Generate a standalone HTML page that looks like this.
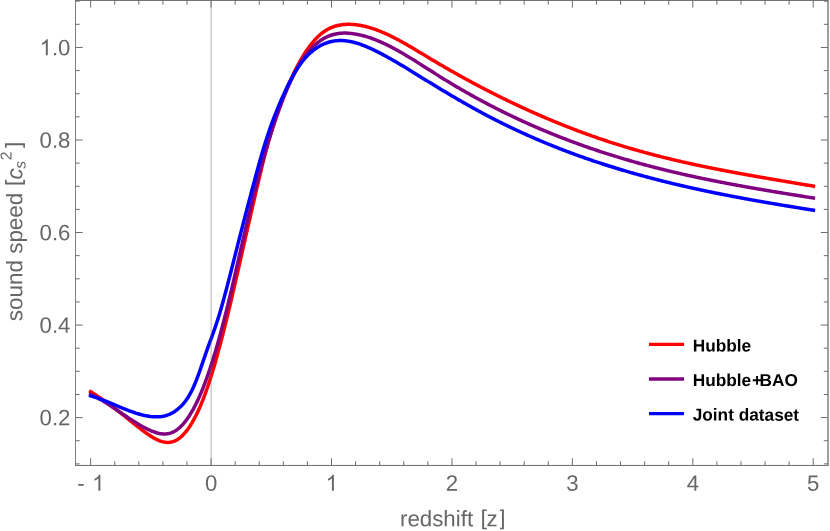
<!DOCTYPE html>
<html><head><meta charset="utf-8"><title>sound speed</title>
<style>
html,body{margin:0;padding:0;background:#fff;}
body{width:830px;height:531px;overflow:hidden;}
svg{display:block;will-change:transform;}
text{font-family:"Liberation Sans",sans-serif;}
</style></head><body>
<svg width="830" height="531" viewBox="0 0 830 531">
<g fill="none" stroke-width="3.5" stroke-linecap="square" stroke-linejoin="round">
<path stroke="#ff0000" d="M90.65,391.72 L91.45,392.22 L92.26,392.73 L93.06,393.24 L93.87,393.75 L94.67,394.27 L95.47,394.79 L96.28,395.31 L97.08,395.84 L97.89,396.37 L98.69,396.91 L99.49,397.45 L100.30,397.99 L101.10,398.54 L101.91,399.09 L102.71,399.65 L103.51,400.21 L104.32,400.77 L105.12,401.34 L105.93,401.91 L106.73,402.48 L107.53,403.06 L108.34,403.64 L109.14,404.23 L109.94,404.81 L110.75,405.41 L111.55,406.00 L112.36,406.60 L113.16,407.20 L113.96,407.81 L114.77,408.42 L115.57,409.03 L116.38,409.65 L117.18,410.27 L117.98,410.89 L118.79,411.52 L119.59,412.15 L120.40,412.78 L121.20,413.42 L122.00,414.06 L122.81,414.70 L123.61,415.35 L124.42,415.99 L125.22,416.64 L126.02,417.29 L126.83,417.94 L127.63,418.59 L128.44,419.24 L129.24,419.89 L130.04,420.54 L130.85,421.19 L131.65,421.84 L132.46,422.49 L133.26,423.13 L134.06,423.78 L134.87,424.42 L135.67,425.06 L136.48,425.69 L137.28,426.32 L138.08,426.95 L138.89,427.58 L139.69,428.20 L140.49,428.82 L141.30,429.43 L142.10,430.03 L142.91,430.63 L143.71,431.23 L144.51,431.82 L145.32,432.40 L146.12,432.98 L146.93,433.55 L147.73,434.11 L148.53,434.66 L149.34,435.20 L150.14,435.73 L150.95,436.25 L151.75,436.75 L152.55,437.24 L153.36,437.72 L154.16,438.17 L154.97,438.61 L155.77,439.04 L156.57,439.44 L157.38,439.82 L158.18,440.18 L158.99,440.51 L159.79,440.83 L160.59,441.11 L161.40,441.38 L162.20,441.61 L163.01,441.82 L163.81,441.99 L164.61,442.14 L165.42,442.25 L166.22,442.34 L167.03,442.39 L167.83,442.40 L168.63,442.38 L169.44,442.32 L170.24,442.22 L171.04,442.09 L171.85,441.91 L172.65,441.70 L173.46,441.44 L174.26,441.14 L175.06,440.79 L175.87,440.40 L176.67,439.97 L177.48,439.49 L178.28,438.96 L179.08,438.39 L179.89,437.77 L180.69,437.11 L181.50,436.40 L182.30,435.64 L183.10,434.84 L183.91,433.99 L184.71,433.09 L185.52,432.14 L186.32,431.15 L187.12,430.11 L187.93,429.02 L188.73,427.89 L189.54,426.71 L190.34,425.47 L191.14,424.19 L191.95,422.87 L192.75,421.49 L193.56,420.06 L194.36,418.59 L195.16,417.06 L195.97,415.49 L196.77,413.86 L197.58,412.19 L198.38,410.46 L199.18,408.69 L199.99,406.86 L200.79,404.98 L201.59,403.06 L202.40,401.08 L203.20,399.05 L204.01,396.97 L204.81,394.84 L205.61,392.65 L206.42,390.42 L207.22,388.13 L208.03,385.79 L208.83,383.39 L209.63,380.95 L210.44,378.45 L211.24,375.89 L212.05,373.29 L212.85,370.62 L213.65,367.91 L214.46,365.14 L215.26,362.32 L216.07,359.46 L216.87,356.57 L217.67,353.64 L218.48,350.68 L219.28,347.71 L220.09,344.70 L220.89,341.68 L221.69,338.62 L222.50,335.54 L223.30,332.43 L224.11,329.29 L224.91,326.12 L225.71,322.92 L226.52,319.68 L227.32,316.41 L228.13,313.11 L228.93,309.77 L229.73,306.41 L230.54,303.02 L231.34,299.60 L232.14,296.17 L232.95,292.71 L233.75,289.23 L234.56,285.73 L235.36,282.22 L236.16,278.70 L236.97,275.16 L237.77,271.62 L238.58,268.07 L239.38,264.51 L240.18,260.95 L240.99,257.38 L241.79,253.82 L242.60,250.25 L243.40,246.69 L244.20,243.14 L245.01,239.59 L245.81,236.06 L246.62,232.53 L247.42,229.01 L248.22,225.50 L249.03,222.00 L249.83,218.51 L250.64,215.02 L251.44,211.54 L252.24,208.06 L253.05,204.59 L253.85,201.12 L254.66,197.65 L255.46,194.19 L256.26,190.73 L257.07,187.27 L257.87,183.81 L258.68,180.38 L259.48,176.96 L260.28,173.57 L261.09,170.21 L261.89,166.88 L262.70,163.60 L263.50,160.37 L264.30,157.19 L265.11,154.06 L265.91,151.00 L266.71,147.99 L267.52,145.04 L268.32,142.14 L269.13,139.30 L269.93,136.51 L270.73,133.77 L271.54,131.08 L272.34,128.45 L273.15,125.86 L273.95,123.32 L274.75,120.82 L275.56,118.38 L276.36,115.98 L277.17,113.62 L277.97,111.30 L278.77,109.03 L279.58,106.80 L280.38,104.61 L281.19,102.46 L281.99,100.35 L282.79,98.27 L283.60,96.24 L284.40,94.23 L285.21,92.26 L286.01,90.33 L286.81,88.42 L287.62,86.55 L288.42,84.71 L289.23,82.90 L290.03,81.12 L290.83,79.36 L291.64,77.64 L292.44,75.93 L293.25,74.26 L294.05,72.62 L294.85,71.00 L295.66,69.41 L296.46,67.84 L297.26,66.31 L298.07,64.80 L298.87,63.32 L299.68,61.87 L300.48,60.45 L301.28,59.06 L302.09,57.69 L302.89,56.35 L303.70,55.04 L304.50,53.76 L305.30,52.51 L306.11,51.29 L306.91,50.09 L307.72,48.93 L308.52,47.79 L309.32,46.68 L310.13,45.61 L310.93,44.56 L311.74,43.54 L312.54,42.55 L313.34,41.59 L314.15,40.66 L314.95,39.76 L315.76,38.89 L316.56,38.05 L317.36,37.24 L318.17,36.46 L318.97,35.71 L319.78,34.98 L320.58,34.29 L321.38,33.63 L322.19,32.99 L322.99,32.39 L323.80,31.81 L324.60,31.25 L325.40,30.72 L326.21,30.22 L327.01,29.74 L327.81,29.29 L328.62,28.86 L329.42,28.45 L330.23,28.07 L331.03,27.71 L331.83,27.37 L332.64,27.05 L333.44,26.75 L334.25,26.47 L335.05,26.21 L335.85,25.98 L336.66,25.76 L337.46,25.55 L338.27,25.37 L339.07,25.20 L339.87,25.05 L340.68,24.92 L341.48,24.80 L342.29,24.69 L343.09,24.60 L343.89,24.53 L344.70,24.47 L345.50,24.42 L346.31,24.38 L347.11,24.35 L347.91,24.34 L348.72,24.34 L349.52,24.34 L350.33,24.36 L351.13,24.39 L351.93,24.43 L352.74,24.48 L353.54,24.53 L354.35,24.60 L355.15,24.68 L355.95,24.77 L356.76,24.86 L357.56,24.97 L358.36,25.08 L359.17,25.21 L359.97,25.34 L360.78,25.48 L361.58,25.63 L362.38,25.79 L363.19,25.96 L363.99,26.14 L364.80,26.32 L365.60,26.51 L366.40,26.71 L367.21,26.92 L368.01,27.14 L368.82,27.36 L369.62,27.59 L370.42,27.83 L371.23,28.08 L372.03,28.33 L372.84,28.59 L373.64,28.86 L374.44,29.14 L375.25,29.42 L376.05,29.71 L376.86,30.00 L377.66,30.31 L378.46,30.61 L379.27,30.93 L380.07,31.25 L380.88,31.57 L381.68,31.91 L382.48,32.25 L383.29,32.59 L384.09,32.94 L384.90,33.29 L385.70,33.65 L386.50,34.02 L387.31,34.39 L388.11,34.77 L388.92,35.15 L389.72,35.53 L390.52,35.92 L391.33,36.32 L392.13,36.72 L392.93,37.12 L393.74,37.53 L394.54,37.94 L395.35,38.36 L396.15,38.78 L396.95,39.20 L397.76,39.63 L398.56,40.06 L399.37,40.49 L400.17,40.93 L400.97,41.37 L401.78,41.82 L402.58,42.26 L403.39,42.71 L404.19,43.17 L404.99,43.62 L405.80,44.08 L406.60,44.54 L407.41,45.00 L408.21,45.47 L409.01,45.94 L409.82,46.41 L410.62,46.88 L411.43,47.35 L412.23,47.82 L413.03,48.30 L413.84,48.78 L414.64,49.26 L415.45,49.74 L416.25,50.22 L417.05,50.70 L417.86,51.18 L418.66,51.67 L419.47,52.15 L420.27,52.64 L421.07,53.12 L421.88,53.61 L422.68,54.09 L423.48,54.58 L424.29,55.06 L425.09,55.55 L425.90,56.03 L426.70,56.52 L427.50,57.00 L428.31,57.49 L429.11,57.97 L429.92,58.45 L430.72,58.94 L431.52,59.42 L432.33,59.90 L433.13,60.37 L433.94,60.85 L434.74,61.33 L435.54,61.80 L436.35,62.28 L437.15,62.75 L437.96,63.23 L438.76,63.70 L439.56,64.17 L440.37,64.64 L441.17,65.11 L441.98,65.58 L442.78,66.04 L443.58,66.51 L444.39,66.98 L445.19,67.44 L446.00,67.90 L446.80,68.37 L447.60,68.83 L448.41,69.29 L449.21,69.75 L450.02,70.21 L450.82,70.67 L451.62,71.12 L452.43,71.58 L453.23,72.03 L454.03,72.49 L454.84,72.94 L455.64,73.39 L456.45,73.84 L457.25,74.29 L458.05,74.74 L458.86,75.19 L459.66,75.64 L460.47,76.09 L461.27,76.53 L462.07,76.97 L462.88,77.42 L463.68,77.86 L464.49,78.30 L465.29,78.74 L466.09,79.18 L466.90,79.62 L467.70,80.06 L468.51,80.50 L469.31,80.93 L470.11,81.37 L470.92,81.80 L471.72,82.23 L472.53,82.67 L473.33,83.10 L474.13,83.53 L474.94,83.96 L475.74,84.38 L476.55,84.81 L477.35,85.24 L478.15,85.66 L478.96,86.09 L479.76,86.51 L480.57,86.93 L481.37,87.35 L482.17,87.77 L482.98,88.19 L483.78,88.61 L484.58,89.03 L485.39,89.45 L486.19,89.86 L487.00,90.28 L487.80,90.69 L488.60,91.10 L489.41,91.51 L490.21,91.92 L491.02,92.33 L491.82,92.74 L492.62,93.15 L493.43,93.56 L494.23,93.96 L495.04,94.37 L495.84,94.77 L496.64,95.18 L497.45,95.58 L498.25,95.98 L499.06,96.38 L499.86,96.78 L500.66,97.18 L501.47,97.57 L502.27,97.97 L503.08,98.36 L503.88,98.76 L504.68,99.15 L505.49,99.54 L506.29,99.93 L507.10,100.32 L507.90,100.71 L508.70,101.10 L509.51,101.49 L510.31,101.88 L511.12,102.26 L511.92,102.65 L512.72,103.03 L513.53,103.41 L514.33,103.79 L515.13,104.17 L515.94,104.55 L516.74,104.93 L517.55,105.31 L518.35,105.69 L519.15,106.06 L519.96,106.44 L520.76,106.81 L521.57,107.18 L522.37,107.55 L523.17,107.92 L523.98,108.29 L524.78,108.66 L525.59,109.03 L526.39,109.40 L527.19,109.76 L528.00,110.13 L528.80,110.49 L529.61,110.85 L530.41,111.22 L531.21,111.58 L532.02,111.94 L532.82,112.30 L533.63,112.65 L534.43,113.01 L535.23,113.37 L536.04,113.72 L536.84,114.07 L537.65,114.43 L538.45,114.78 L539.25,115.13 L540.06,115.48 L540.86,115.83 L541.67,116.18 L542.47,116.52 L543.27,116.87 L544.08,117.21 L544.88,117.56 L545.69,117.90 L546.49,118.24 L547.29,118.58 L548.10,118.92 L548.90,119.26 L549.70,119.60 L550.51,119.94 L551.31,120.27 L552.12,120.61 L552.92,120.94 L553.72,121.28 L554.53,121.61 L555.33,121.94 L556.14,122.27 L556.94,122.60 L557.74,122.93 L558.55,123.25 L559.35,123.58 L560.16,123.90 L560.96,124.23 L561.76,124.55 L562.57,124.87 L563.37,125.19 L564.18,125.51 L564.98,125.83 L565.78,126.15 L566.59,126.47 L567.39,126.78 L568.20,127.10 L569.00,127.41 L569.80,127.72 L570.61,128.04 L571.41,128.35 L572.22,128.66 L573.02,128.97 L573.82,129.27 L574.63,129.58 L575.43,129.89 L576.24,130.19 L577.04,130.50 L577.84,130.80 L578.65,131.10 L579.45,131.40 L580.25,131.70 L581.06,132.00 L581.86,132.30 L582.67,132.59 L583.47,132.89 L584.27,133.18 L585.08,133.48 L585.88,133.77 L586.69,134.06 L587.49,134.35 L588.29,134.64 L589.10,134.93 L589.90,135.22 L590.71,135.51 L591.51,135.79 L592.31,136.08 L593.12,136.36 L593.92,136.64 L594.73,136.92 L595.53,137.20 L596.33,137.48 L597.14,137.76 L597.94,138.04 L598.75,138.32 L599.55,138.59 L600.35,138.87 L601.16,139.14 L601.96,139.41 L602.77,139.68 L603.57,139.95 L604.37,140.22 L605.18,140.49 L605.98,140.76 L606.79,141.03 L607.59,141.29 L608.39,141.55 L609.20,141.82 L610.00,142.08 L610.80,142.34 L611.61,142.60 L612.41,142.86 L613.22,143.12 L614.02,143.38 L614.82,143.63 L615.63,143.89 L616.43,144.14 L617.24,144.39 L618.04,144.65 L618.84,144.90 L619.65,145.15 L620.45,145.40 L621.26,145.64 L622.06,145.89 L622.86,146.14 L623.67,146.38 L624.47,146.62 L625.28,146.87 L626.08,147.11 L626.88,147.35 L627.69,147.59 L628.49,147.83 L629.30,148.07 L630.10,148.30 L630.90,148.54 L631.71,148.77 L632.51,149.01 L633.32,149.24 L634.12,149.47 L634.92,149.70 L635.73,149.93 L636.53,150.16 L637.34,150.39 L638.14,150.62 L638.94,150.84 L639.75,151.07 L640.55,151.29 L641.35,151.52 L642.16,151.74 L642.96,151.96 L643.77,152.18 L644.57,152.40 L645.37,152.62 L646.18,152.84 L646.98,153.06 L647.79,153.28 L648.59,153.49 L649.39,153.71 L650.20,153.92 L651.00,154.13 L651.81,154.35 L652.61,154.56 L653.41,154.77 L654.22,154.98 L655.02,155.19 L655.83,155.39 L656.63,155.60 L657.43,155.81 L658.24,156.01 L659.04,156.22 L659.85,156.42 L660.65,156.63 L661.45,156.83 L662.26,157.03 L663.06,157.23 L663.87,157.43 L664.67,157.63 L665.47,157.83 L666.28,158.03 L667.08,158.22 L667.89,158.42 L668.69,158.62 L669.49,158.81 L670.30,159.00 L671.10,159.20 L671.91,159.39 L672.71,159.58 L673.51,159.77 L674.32,159.96 L675.12,160.15 L675.92,160.34 L676.73,160.53 L677.53,160.72 L678.34,160.90 L679.14,161.09 L679.94,161.28 L680.75,161.46 L681.55,161.64 L682.36,161.83 L683.16,162.01 L683.96,162.19 L684.77,162.37 L685.57,162.56 L686.38,162.74 L687.18,162.91 L687.98,163.09 L688.79,163.27 L689.59,163.45 L690.40,163.63 L691.20,163.80 L692.00,163.98 L692.81,164.15 L693.61,164.33 L694.42,164.50 L695.22,164.67 L696.02,164.85 L696.83,165.02 L697.63,165.19 L698.44,165.36 L699.24,165.53 L700.04,165.70 L700.85,165.87 L701.65,166.04 L702.46,166.21 L703.26,166.38 L704.06,166.54 L704.87,166.71 L705.67,166.87 L706.47,167.04 L707.28,167.20 L708.08,167.37 L708.89,167.53 L709.69,167.70 L710.49,167.86 L711.30,168.02 L712.10,168.18 L712.91,168.34 L713.71,168.50 L714.51,168.67 L715.32,168.83 L716.12,168.98 L716.93,169.14 L717.73,169.30 L718.53,169.46 L719.34,169.62 L720.14,169.77 L720.95,169.93 L721.75,170.09 L722.55,170.24 L723.36,170.40 L724.16,170.55 L724.97,170.71 L725.77,170.86 L726.57,171.01 L727.38,171.17 L728.18,171.32 L728.99,171.47 L729.79,171.62 L730.59,171.77 L731.40,171.93 L732.20,172.08 L733.01,172.23 L733.81,172.38 L734.61,172.53 L735.42,172.68 L736.22,172.82 L737.02,172.97 L737.83,173.12 L738.63,173.27 L739.44,173.42 L740.24,173.56 L741.04,173.71 L741.85,173.86 L742.65,174.00 L743.46,174.15 L744.26,174.29 L745.06,174.44 L745.87,174.58 L746.67,174.73 L747.48,174.87 L748.28,175.02 L749.08,175.16 L749.89,175.30 L750.69,175.45 L751.50,175.59 L752.30,175.73 L753.10,175.87 L753.91,176.02 L754.71,176.16 L755.52,176.30 L756.32,176.44 L757.12,176.58 L757.93,176.72 L758.73,176.86 L759.54,177.00 L760.34,177.14 L761.14,177.28 L761.95,177.42 L762.75,177.56 L763.56,177.70 L764.36,177.84 L765.16,177.98 L765.97,178.12 L766.77,178.26 L767.57,178.39 L768.38,178.53 L769.18,178.67 L769.99,178.81 L770.79,178.94 L771.59,179.08 L772.40,179.22 L773.20,179.36 L774.01,179.49 L774.81,179.63 L775.61,179.77 L776.42,179.90 L777.22,180.04 L778.03,180.18 L778.83,180.31 L779.63,180.45 L780.44,180.58 L781.24,180.72 L782.05,180.86 L782.85,180.99 L783.65,181.13 L784.46,181.26 L785.26,181.40 L786.07,181.53 L786.87,181.67 L787.67,181.80 L788.48,181.94 L789.28,182.07 L790.09,182.21 L790.89,182.34 L791.69,182.48 L792.50,182.61 L793.30,182.75 L794.11,182.88 L794.91,183.02 L795.71,183.15 L796.52,183.29 L797.32,183.42 L798.12,183.56 L798.93,183.69 L799.73,183.83 L800.54,183.96 L801.34,184.10 L802.14,184.23 L802.95,184.37 L803.75,184.50 L804.56,184.63 L805.36,184.77 L806.16,184.90 L806.97,185.04 L807.77,185.17 L808.58,185.31 L809.38,185.44 L810.18,185.58 L810.99,185.72 L811.79,185.85 L812.60,185.99 L813.40,186.12"/>
<path stroke="#800080" d="M90.65,394.35 L91.45,394.72 L92.26,395.10 L93.06,395.49 L93.87,395.88 L94.67,396.29 L95.47,396.70 L96.28,397.13 L97.08,397.56 L97.89,398.00 L98.69,398.45 L99.49,398.90 L100.30,399.37 L101.10,399.83 L101.91,400.31 L102.71,400.79 L103.51,401.28 L104.32,401.78 L105.12,402.28 L105.93,402.78 L106.73,403.29 L107.53,403.81 L108.34,404.32 L109.14,404.85 L109.94,405.37 L110.75,405.90 L111.55,406.44 L112.36,406.97 L113.16,407.51 L113.96,408.06 L114.77,408.60 L115.57,409.15 L116.38,409.69 L117.18,410.24 L117.98,410.79 L118.79,411.34 L119.59,411.89 L120.40,412.44 L121.20,412.99 L122.00,413.54 L122.81,414.09 L123.61,414.64 L124.42,415.19 L125.22,415.74 L126.02,416.28 L126.83,416.82 L127.63,417.36 L128.44,417.90 L129.24,418.43 L130.04,418.96 L130.85,419.49 L131.65,420.01 L132.46,420.53 L133.26,421.05 L134.06,421.56 L134.87,422.06 L135.67,422.56 L136.48,423.06 L137.28,423.55 L138.08,424.03 L138.89,424.51 L139.69,424.98 L140.49,425.44 L141.30,425.90 L142.10,426.34 L142.91,426.78 L143.71,427.22 L144.51,427.64 L145.32,428.06 L146.12,428.46 L146.93,428.86 L147.73,429.25 L148.53,429.63 L149.34,430.00 L150.14,430.36 L150.95,430.70 L151.75,431.04 L152.55,431.36 L153.36,431.67 L154.16,431.96 L154.97,432.24 L155.77,432.50 L156.57,432.75 L157.38,432.97 L158.18,433.18 L158.99,433.36 L159.79,433.52 L160.59,433.66 L161.40,433.77 L162.20,433.86 L163.01,433.92 L163.81,433.96 L164.61,433.96 L165.42,433.94 L166.22,433.88 L167.03,433.80 L167.83,433.68 L168.63,433.53 L169.44,433.34 L170.24,433.12 L171.04,432.86 L171.85,432.57 L172.65,432.23 L173.46,431.86 L174.26,431.44 L175.06,430.98 L175.87,430.48 L176.67,429.94 L177.48,429.36 L178.28,428.73 L179.08,428.06 L179.89,427.35 L180.69,426.60 L181.50,425.80 L182.30,424.96 L183.10,424.08 L183.91,423.15 L184.71,422.18 L185.52,421.17 L186.32,420.11 L187.12,419.01 L187.93,417.86 L188.73,416.67 L189.54,415.44 L190.34,414.16 L191.14,412.84 L191.95,411.47 L192.75,410.06 L193.56,408.60 L194.36,407.10 L195.16,405.55 L195.97,403.96 L196.77,402.32 L197.58,400.63 L198.38,398.90 L199.18,397.12 L199.99,395.30 L200.79,393.43 L201.59,391.51 L202.40,389.55 L203.20,387.54 L204.01,385.48 L204.81,383.38 L205.61,381.23 L206.42,379.03 L207.22,376.78 L208.03,374.49 L208.83,372.16 L209.63,369.78 L210.44,367.35 L211.24,364.88 L212.05,362.37 L212.85,359.82 L213.65,357.22 L214.46,354.58 L215.26,351.90 L216.07,349.18 L216.87,346.42 L217.67,343.62 L218.48,340.78 L219.28,337.90 L220.09,334.99 L220.89,332.03 L221.69,329.04 L222.50,326.01 L223.30,322.95 L224.11,319.85 L224.91,316.71 L225.71,313.54 L226.52,310.34 L227.32,307.10 L228.13,303.83 L228.93,300.52 L229.73,297.19 L230.54,293.83 L231.34,290.44 L232.14,287.03 L232.95,283.60 L233.75,280.15 L234.56,276.68 L235.36,273.20 L236.16,269.71 L236.97,266.21 L237.77,262.71 L238.58,259.19 L239.38,255.68 L240.18,252.17 L240.99,248.66 L241.79,245.15 L242.60,241.65 L243.40,238.16 L244.20,234.69 L245.01,231.23 L245.81,227.78 L246.62,224.35 L247.42,220.95 L248.22,217.56 L249.03,214.21 L249.83,210.88 L250.64,207.57 L251.44,204.30 L252.24,201.05 L253.05,197.83 L253.85,194.63 L254.66,191.46 L255.46,188.33 L256.26,185.22 L257.07,182.14 L257.87,179.08 L258.68,176.06 L259.48,173.07 L260.28,170.10 L261.09,167.17 L261.89,164.26 L262.70,161.39 L263.50,158.55 L264.30,155.73 L265.11,152.95 L265.91,150.20 L266.71,147.47 L267.52,144.78 L268.32,142.12 L269.13,139.49 L269.93,136.90 L270.73,134.33 L271.54,131.80 L272.34,129.29 L273.15,126.82 L273.95,124.38 L274.75,121.98 L275.56,119.60 L276.36,117.26 L277.17,114.95 L277.97,112.67 L278.77,110.43 L279.58,108.22 L280.38,106.05 L281.19,103.90 L281.99,101.79 L282.79,99.72 L283.60,97.68 L284.40,95.67 L285.21,93.70 L286.01,91.76 L286.81,89.85 L287.62,87.98 L288.42,86.15 L289.23,84.35 L290.03,82.59 L290.83,80.86 L291.64,79.17 L292.44,77.51 L293.25,75.89 L294.05,74.31 L294.85,72.76 L295.66,71.25 L296.46,69.77 L297.26,68.33 L298.07,66.93 L298.87,65.56 L299.68,64.22 L300.48,62.93 L301.28,61.66 L302.09,60.43 L302.89,59.23 L303.70,58.07 L304.50,56.93 L305.30,55.83 L306.11,54.76 L306.91,53.73 L307.72,52.72 L308.52,51.74 L309.32,50.80 L310.13,49.88 L310.93,48.99 L311.74,48.14 L312.54,47.31 L313.34,46.51 L314.15,45.73 L314.95,44.99 L315.76,44.27 L316.56,43.58 L317.36,42.91 L318.17,42.27 L318.97,41.66 L319.78,41.07 L320.58,40.50 L321.38,39.96 L322.19,39.44 L322.99,38.95 L323.80,38.48 L324.60,38.03 L325.40,37.61 L326.21,37.21 L327.01,36.82 L327.81,36.46 L328.62,36.13 L329.42,35.81 L330.23,35.51 L331.03,35.23 L331.83,34.97 L332.64,34.73 L333.44,34.50 L334.25,34.30 L335.05,34.11 L335.85,33.94 L336.66,33.79 L337.46,33.65 L338.27,33.53 L339.07,33.42 L339.87,33.33 L340.68,33.26 L341.48,33.20 L342.29,33.15 L343.09,33.12 L343.89,33.10 L344.70,33.10 L345.50,33.10 L346.31,33.12 L347.11,33.15 L347.91,33.19 L348.72,33.25 L349.52,33.31 L350.33,33.38 L351.13,33.47 L351.93,33.56 L352.74,33.66 L353.54,33.77 L354.35,33.89 L355.15,34.02 L355.95,34.15 L356.76,34.30 L357.56,34.45 L358.36,34.61 L359.17,34.78 L359.97,34.96 L360.78,35.14 L361.58,35.34 L362.38,35.54 L363.19,35.75 L363.99,35.96 L364.80,36.18 L365.60,36.41 L366.40,36.65 L367.21,36.90 L368.01,37.15 L368.82,37.41 L369.62,37.67 L370.42,37.94 L371.23,38.22 L372.03,38.51 L372.84,38.80 L373.64,39.10 L374.44,39.40 L375.25,39.72 L376.05,40.03 L376.86,40.36 L377.66,40.68 L378.46,41.02 L379.27,41.36 L380.07,41.71 L380.88,42.06 L381.68,42.42 L382.48,42.78 L383.29,43.15 L384.09,43.52 L384.90,43.90 L385.70,44.28 L386.50,44.67 L387.31,45.06 L388.11,45.46 L388.92,45.86 L389.72,46.27 L390.52,46.68 L391.33,47.09 L392.13,47.51 L392.93,47.94 L393.74,48.36 L394.54,48.80 L395.35,49.23 L396.15,49.67 L396.95,50.11 L397.76,50.56 L398.56,51.01 L399.37,51.46 L400.17,51.92 L400.97,52.38 L401.78,52.84 L402.58,53.31 L403.39,53.78 L404.19,54.25 L404.99,54.73 L405.80,55.20 L406.60,55.68 L407.41,56.17 L408.21,56.65 L409.01,57.14 L409.82,57.63 L410.62,58.12 L411.43,58.61 L412.23,59.11 L413.03,59.60 L413.84,60.10 L414.64,60.60 L415.45,61.10 L416.25,61.61 L417.05,62.11 L417.86,62.62 L418.66,63.12 L419.47,63.63 L420.27,64.14 L421.07,64.65 L421.88,65.16 L422.68,65.67 L423.48,66.18 L424.29,66.70 L425.09,67.21 L425.90,67.72 L426.70,68.23 L427.50,68.75 L428.31,69.26 L429.11,69.77 L429.92,70.29 L430.72,70.80 L431.52,71.31 L432.33,71.82 L433.13,72.34 L433.94,72.85 L434.74,73.36 L435.54,73.87 L436.35,74.37 L437.15,74.88 L437.96,75.39 L438.76,75.89 L439.56,76.40 L440.37,76.90 L441.17,77.40 L441.98,77.90 L442.78,78.40 L443.58,78.89 L444.39,79.39 L445.19,79.88 L446.00,80.38 L446.80,80.87 L447.60,81.36 L448.41,81.84 L449.21,82.33 L450.02,82.82 L450.82,83.30 L451.62,83.78 L452.43,84.26 L453.23,84.74 L454.03,85.22 L454.84,85.70 L455.64,86.18 L456.45,86.65 L457.25,87.12 L458.05,87.59 L458.86,88.06 L459.66,88.53 L460.47,89.00 L461.27,89.47 L462.07,89.93 L462.88,90.39 L463.68,90.86 L464.49,91.32 L465.29,91.77 L466.09,92.23 L466.90,92.69 L467.70,93.14 L468.51,93.60 L469.31,94.05 L470.11,94.50 L470.92,94.95 L471.72,95.40 L472.53,95.85 L473.33,96.29 L474.13,96.74 L474.94,97.18 L475.74,97.62 L476.55,98.06 L477.35,98.50 L478.15,98.94 L478.96,99.37 L479.76,99.81 L480.57,100.24 L481.37,100.67 L482.17,101.11 L482.98,101.54 L483.78,101.96 L484.58,102.39 L485.39,102.82 L486.19,103.24 L487.00,103.67 L487.80,104.09 L488.60,104.51 L489.41,104.93 L490.21,105.35 L491.02,105.76 L491.82,106.18 L492.62,106.59 L493.43,107.01 L494.23,107.42 L495.04,107.83 L495.84,108.24 L496.64,108.64 L497.45,109.05 L498.25,109.46 L499.06,109.86 L499.86,110.26 L500.66,110.67 L501.47,111.07 L502.27,111.47 L503.08,111.86 L503.88,112.26 L504.68,112.66 L505.49,113.05 L506.29,113.44 L507.10,113.83 L507.90,114.22 L508.70,114.61 L509.51,115.00 L510.31,115.39 L511.12,115.77 L511.92,116.16 L512.72,116.54 L513.53,116.92 L514.33,117.30 L515.13,117.68 L515.94,118.06 L516.74,118.44 L517.55,118.82 L518.35,119.19 L519.15,119.56 L519.96,119.94 L520.76,120.31 L521.57,120.68 L522.37,121.05 L523.17,121.41 L523.98,121.78 L524.78,122.15 L525.59,122.51 L526.39,122.87 L527.19,123.23 L528.00,123.59 L528.80,123.95 L529.61,124.31 L530.41,124.67 L531.21,125.03 L532.02,125.38 L532.82,125.73 L533.63,126.09 L534.43,126.44 L535.23,126.79 L536.04,127.14 L536.84,127.48 L537.65,127.83 L538.45,128.18 L539.25,128.52 L540.06,128.86 L540.86,129.21 L541.67,129.55 L542.47,129.89 L543.27,130.23 L544.08,130.56 L544.88,130.90 L545.69,131.24 L546.49,131.57 L547.29,131.90 L548.10,132.23 L548.90,132.57 L549.70,132.90 L550.51,133.22 L551.31,133.55 L552.12,133.88 L552.92,134.20 L553.72,134.53 L554.53,134.85 L555.33,135.17 L556.14,135.49 L556.94,135.81 L557.74,136.13 L558.55,136.45 L559.35,136.77 L560.16,137.08 L560.96,137.40 L561.76,137.71 L562.57,138.02 L563.37,138.34 L564.18,138.65 L564.98,138.96 L565.78,139.26 L566.59,139.57 L567.39,139.88 L568.20,140.18 L569.00,140.49 L569.80,140.79 L570.61,141.09 L571.41,141.39 L572.22,141.69 L573.02,141.99 L573.82,142.29 L574.63,142.59 L575.43,142.88 L576.24,143.18 L577.04,143.47 L577.84,143.76 L578.65,144.06 L579.45,144.35 L580.25,144.64 L581.06,144.92 L581.86,145.21 L582.67,145.50 L583.47,145.78 L584.27,146.07 L585.08,146.35 L585.88,146.64 L586.69,146.92 L587.49,147.20 L588.29,147.48 L589.10,147.76 L589.90,148.03 L590.71,148.31 L591.51,148.59 L592.31,148.86 L593.12,149.14 L593.92,149.41 L594.73,149.68 L595.53,149.95 L596.33,150.22 L597.14,150.49 L597.94,150.76 L598.75,151.03 L599.55,151.29 L600.35,151.56 L601.16,151.82 L601.96,152.08 L602.77,152.35 L603.57,152.61 L604.37,152.87 L605.18,153.13 L605.98,153.39 L606.79,153.64 L607.59,153.90 L608.39,154.16 L609.20,154.41 L610.00,154.67 L610.80,154.92 L611.61,155.17 L612.41,155.42 L613.22,155.67 L614.02,155.92 L614.82,156.17 L615.63,156.42 L616.43,156.66 L617.24,156.91 L618.04,157.16 L618.84,157.40 L619.65,157.64 L620.45,157.88 L621.26,158.13 L622.06,158.37 L622.86,158.61 L623.67,158.84 L624.47,159.08 L625.28,159.32 L626.08,159.56 L626.88,159.79 L627.69,160.02 L628.49,160.26 L629.30,160.49 L630.10,160.72 L630.90,160.95 L631.71,161.18 L632.51,161.41 L633.32,161.64 L634.12,161.87 L634.92,162.10 L635.73,162.32 L636.53,162.55 L637.34,162.77 L638.14,162.99 L638.94,163.22 L639.75,163.44 L640.55,163.66 L641.35,163.88 L642.16,164.10 L642.96,164.32 L643.77,164.53 L644.57,164.75 L645.37,164.97 L646.18,165.18 L646.98,165.39 L647.79,165.61 L648.59,165.82 L649.39,166.03 L650.20,166.24 L651.00,166.45 L651.81,166.66 L652.61,166.87 L653.41,167.08 L654.22,167.29 L655.02,167.49 L655.83,167.70 L656.63,167.90 L657.43,168.11 L658.24,168.31 L659.04,168.52 L659.85,168.72 L660.65,168.92 L661.45,169.12 L662.26,169.32 L663.06,169.52 L663.87,169.72 L664.67,169.91 L665.47,170.11 L666.28,170.31 L667.08,170.50 L667.89,170.70 L668.69,170.89 L669.49,171.08 L670.30,171.28 L671.10,171.47 L671.91,171.66 L672.71,171.85 L673.51,172.04 L674.32,172.23 L675.12,172.42 L675.92,172.61 L676.73,172.79 L677.53,172.98 L678.34,173.17 L679.14,173.35 L679.94,173.54 L680.75,173.72 L681.55,173.90 L682.36,174.09 L683.16,174.27 L683.96,174.45 L684.77,174.63 L685.57,174.81 L686.38,174.99 L687.18,175.17 L687.98,175.35 L688.79,175.52 L689.59,175.70 L690.40,175.88 L691.20,176.05 L692.00,176.23 L692.81,176.40 L693.61,176.58 L694.42,176.75 L695.22,176.92 L696.02,177.10 L696.83,177.27 L697.63,177.44 L698.44,177.61 L699.24,177.78 L700.04,177.95 L700.85,178.12 L701.65,178.29 L702.46,178.46 L703.26,178.62 L704.06,178.79 L704.87,178.96 L705.67,179.12 L706.47,179.29 L707.28,179.45 L708.08,179.62 L708.89,179.78 L709.69,179.94 L710.49,180.11 L711.30,180.27 L712.10,180.43 L712.91,180.59 L713.71,180.75 L714.51,180.91 L715.32,181.07 L716.12,181.23 L716.93,181.39 L717.73,181.55 L718.53,181.70 L719.34,181.86 L720.14,182.02 L720.95,182.17 L721.75,182.33 L722.55,182.49 L723.36,182.64 L724.16,182.80 L724.97,182.95 L725.77,183.10 L726.57,183.26 L727.38,183.41 L728.18,183.56 L728.99,183.71 L729.79,183.86 L730.59,184.02 L731.40,184.17 L732.20,184.32 L733.01,184.47 L733.81,184.62 L734.61,184.76 L735.42,184.91 L736.22,185.06 L737.02,185.21 L737.83,185.36 L738.63,185.50 L739.44,185.65 L740.24,185.80 L741.04,185.94 L741.85,186.09 L742.65,186.23 L743.46,186.38 L744.26,186.52 L745.06,186.67 L745.87,186.81 L746.67,186.95 L747.48,187.10 L748.28,187.24 L749.08,187.38 L749.89,187.52 L750.69,187.67 L751.50,187.81 L752.30,187.95 L753.10,188.09 L753.91,188.23 L754.71,188.37 L755.52,188.51 L756.32,188.65 L757.12,188.79 L757.93,188.93 L758.73,189.07 L759.54,189.20 L760.34,189.34 L761.14,189.48 L761.95,189.62 L762.75,189.75 L763.56,189.89 L764.36,190.03 L765.16,190.16 L765.97,190.30 L766.77,190.44 L767.57,190.57 L768.38,190.71 L769.18,190.84 L769.99,190.98 L770.79,191.11 L771.59,191.25 L772.40,191.38 L773.20,191.52 L774.01,191.65 L774.81,191.78 L775.61,191.92 L776.42,192.05 L777.22,192.18 L778.03,192.32 L778.83,192.45 L779.63,192.58 L780.44,192.71 L781.24,192.84 L782.05,192.98 L782.85,193.11 L783.65,193.24 L784.46,193.37 L785.26,193.50 L786.07,193.63 L786.87,193.76 L787.67,193.89 L788.48,194.02 L789.28,194.15 L790.09,194.29 L790.89,194.42 L791.69,194.54 L792.50,194.67 L793.30,194.80 L794.11,194.93 L794.91,195.06 L795.71,195.19 L796.52,195.32 L797.32,195.45 L798.12,195.58 L798.93,195.71 L799.73,195.84 L800.54,195.97 L801.34,196.09 L802.14,196.22 L802.95,196.35 L803.75,196.48 L804.56,196.61 L805.36,196.73 L806.16,196.86 L806.97,196.99 L807.77,197.12 L808.58,197.25 L809.38,197.37 L810.18,197.50 L810.99,197.63 L811.79,197.76 L812.60,197.88 L813.40,198.01"/>
<path stroke="#0000ff" d="M90.65,395.92 L91.45,396.15 L92.26,396.38 L93.06,396.62 L93.87,396.87 L94.67,397.12 L95.47,397.38 L96.28,397.65 L97.08,397.92 L97.89,398.20 L98.69,398.48 L99.49,398.77 L100.30,399.06 L101.10,399.36 L101.91,399.66 L102.71,399.97 L103.51,400.28 L104.32,400.59 L105.12,400.91 L105.93,401.23 L106.73,401.55 L107.53,401.88 L108.34,402.21 L109.14,402.54 L109.94,402.87 L110.75,403.21 L111.55,403.54 L112.36,403.88 L113.16,404.22 L113.96,404.56 L114.77,404.90 L115.57,405.24 L116.38,405.58 L117.18,405.91 L117.98,406.25 L118.79,406.59 L119.59,406.93 L120.40,407.26 L121.20,407.59 L122.00,407.93 L122.81,408.26 L123.61,408.58 L124.42,408.91 L125.22,409.23 L126.02,409.55 L126.83,409.86 L127.63,410.18 L128.44,410.48 L129.24,410.79 L130.04,411.09 L130.85,411.38 L131.65,411.67 L132.46,411.96 L133.26,412.24 L134.06,412.51 L134.87,412.78 L135.67,413.04 L136.48,413.30 L137.28,413.55 L138.08,413.79 L138.89,414.03 L139.69,414.25 L140.49,414.47 L141.30,414.69 L142.10,414.89 L142.91,415.09 L143.71,415.28 L144.51,415.45 L145.32,415.62 L146.12,415.78 L146.93,415.94 L147.73,416.08 L148.53,416.21 L149.34,416.33 L150.14,416.44 L150.95,416.54 L151.75,416.62 L152.55,416.70 L153.36,416.76 L154.16,416.81 L154.97,416.85 L155.77,416.87 L156.57,416.87 L157.38,416.86 L158.18,416.83 L158.99,416.78 L159.79,416.72 L160.59,416.64 L161.40,416.53 L162.20,416.41 L163.01,416.27 L163.81,416.10 L164.61,415.92 L165.42,415.71 L166.22,415.47 L167.03,415.22 L167.83,414.93 L168.63,414.63 L169.44,414.29 L170.24,413.93 L171.04,413.55 L171.85,413.13 L172.65,412.69 L173.46,412.21 L174.26,411.71 L175.06,411.18 L175.87,410.61 L176.67,410.01 L177.48,409.38 L178.28,408.72 L179.08,408.02 L179.89,407.29 L180.69,406.52 L181.50,405.72 L182.30,404.87 L183.10,403.97 L183.91,403.03 L184.71,402.03 L185.52,400.99 L186.32,399.88 L187.12,398.71 L187.93,397.48 L188.73,396.19 L189.54,394.83 L190.34,393.39 L191.14,391.88 L191.95,390.29 L192.75,388.62 L193.56,386.87 L194.36,385.03 L195.16,383.12 L195.97,381.13 L196.77,379.07 L197.58,376.96 L198.38,374.78 L199.18,372.56 L199.99,370.30 L200.79,368.01 L201.59,365.69 L202.40,363.36 L203.20,361.02 L204.01,358.67 L204.81,356.33 L205.61,354.00 L206.42,351.68 L207.22,349.40 L208.03,347.15 L208.83,344.92 L209.63,342.71 L210.44,340.52 L211.24,338.32 L212.05,336.12 L212.85,333.91 L213.65,331.67 L214.46,329.40 L215.26,327.09 L216.07,324.74 L216.87,322.32 L217.67,319.85 L218.48,317.30 L219.28,314.68 L220.09,311.99 L220.89,309.25 L221.69,306.45 L222.50,303.59 L223.30,300.69 L224.11,297.75 L224.91,294.77 L225.71,291.75 L226.52,288.71 L227.32,285.64 L228.13,282.56 L228.93,279.45 L229.73,276.33 L230.54,273.20 L231.34,270.05 L232.14,266.90 L232.95,263.73 L233.75,260.56 L234.56,257.39 L235.36,254.21 L236.16,251.04 L236.97,247.86 L237.77,244.69 L238.58,241.53 L239.38,238.37 L240.18,235.22 L240.99,232.09 L241.79,228.96 L242.60,225.84 L243.40,222.74 L244.20,219.64 L245.01,216.54 L245.81,213.46 L246.62,210.38 L247.42,207.31 L248.22,204.25 L249.03,201.18 L249.83,198.13 L250.64,195.08 L251.44,192.03 L252.24,189.00 L253.05,185.98 L253.85,182.97 L254.66,179.97 L255.46,176.99 L256.26,174.03 L257.07,171.08 L257.87,168.16 L258.68,165.26 L259.48,162.39 L260.28,159.54 L261.09,156.73 L261.89,153.96 L262.70,151.22 L263.50,148.53 L264.30,145.88 L265.11,143.27 L265.91,140.72 L266.71,138.21 L267.52,135.76 L268.32,133.35 L269.13,130.98 L269.93,128.67 L270.73,126.39 L271.54,124.16 L272.34,121.96 L273.15,119.81 L273.95,117.69 L274.75,115.61 L275.56,113.56 L276.36,111.55 L277.17,109.57 L277.97,107.61 L278.77,105.69 L279.58,103.79 L280.38,101.92 L281.19,100.08 L281.99,98.25 L282.79,96.45 L283.60,94.67 L284.40,92.91 L285.21,91.17 L286.01,89.45 L286.81,87.76 L287.62,86.10 L288.42,84.46 L289.23,82.85 L290.03,81.27 L290.83,79.72 L291.64,78.21 L292.44,76.72 L293.25,75.27 L294.05,73.86 L294.85,72.49 L295.66,71.15 L296.46,69.85 L297.26,68.59 L298.07,67.37 L298.87,66.19 L299.68,65.03 L300.48,63.92 L301.28,62.84 L302.09,61.79 L302.89,60.78 L303.70,59.80 L304.50,58.85 L305.30,57.93 L306.11,57.04 L306.91,56.19 L307.72,55.36 L308.52,54.56 L309.32,53.79 L310.13,53.04 L310.93,52.33 L311.74,51.63 L312.54,50.97 L313.34,50.33 L314.15,49.71 L314.95,49.12 L315.76,48.55 L316.56,48.00 L317.36,47.47 L318.17,46.97 L318.97,46.49 L319.78,46.02 L320.58,45.58 L321.38,45.16 L322.19,44.76 L322.99,44.38 L323.80,44.02 L324.60,43.67 L325.40,43.35 L326.21,43.05 L327.01,42.76 L327.81,42.49 L328.62,42.25 L329.42,42.02 L330.23,41.80 L331.03,41.61 L331.83,41.43 L332.64,41.27 L333.44,41.12 L334.25,41.00 L335.05,40.89 L335.85,40.79 L336.66,40.71 L337.46,40.65 L338.27,40.60 L339.07,40.57 L339.87,40.55 L340.68,40.54 L341.48,40.55 L342.29,40.58 L343.09,40.62 L343.89,40.67 L344.70,40.73 L345.50,40.81 L346.31,40.90 L347.11,41.01 L347.91,41.13 L348.72,41.25 L349.52,41.39 L350.33,41.55 L351.13,41.71 L351.93,41.88 L352.74,42.07 L353.54,42.27 L354.35,42.47 L355.15,42.69 L355.95,42.92 L356.76,43.15 L357.56,43.40 L358.36,43.65 L359.17,43.92 L359.97,44.19 L360.78,44.47 L361.58,44.76 L362.38,45.06 L363.19,45.37 L363.99,45.68 L364.80,46.00 L365.60,46.33 L366.40,46.66 L367.21,47.00 L368.01,47.35 L368.82,47.70 L369.62,48.06 L370.42,48.42 L371.23,48.79 L372.03,49.16 L372.84,49.54 L373.64,49.93 L374.44,50.32 L375.25,50.71 L376.05,51.10 L376.86,51.50 L377.66,51.91 L378.46,52.31 L379.27,52.72 L380.07,53.14 L380.88,53.56 L381.68,53.98 L382.48,54.40 L383.29,54.83 L384.09,55.26 L384.90,55.69 L385.70,56.13 L386.50,56.57 L387.31,57.01 L388.11,57.46 L388.92,57.91 L389.72,58.36 L390.52,58.81 L391.33,59.26 L392.13,59.72 L392.93,60.18 L393.74,60.65 L394.54,61.11 L395.35,61.58 L396.15,62.05 L396.95,62.52 L397.76,62.99 L398.56,63.46 L399.37,63.94 L400.17,64.42 L400.97,64.90 L401.78,65.38 L402.58,65.86 L403.39,66.34 L404.19,66.83 L404.99,67.32 L405.80,67.80 L406.60,68.29 L407.41,68.78 L408.21,69.27 L409.01,69.76 L409.82,70.26 L410.62,70.75 L411.43,71.24 L412.23,71.74 L413.03,72.23 L413.84,72.72 L414.64,73.22 L415.45,73.72 L416.25,74.21 L417.05,74.71 L417.86,75.20 L418.66,75.70 L419.47,76.19 L420.27,76.69 L421.07,77.18 L421.88,77.68 L422.68,78.17 L423.48,78.67 L424.29,79.16 L425.09,79.66 L425.90,80.15 L426.70,80.64 L427.50,81.13 L428.31,81.63 L429.11,82.12 L429.92,82.61 L430.72,83.10 L431.52,83.59 L432.33,84.08 L433.13,84.57 L433.94,85.06 L434.74,85.55 L435.54,86.04 L436.35,86.53 L437.15,87.01 L437.96,87.50 L438.76,87.99 L439.56,88.47 L440.37,88.96 L441.17,89.44 L441.98,89.92 L442.78,90.41 L443.58,90.89 L444.39,91.37 L445.19,91.85 L446.00,92.33 L446.80,92.81 L447.60,93.29 L448.41,93.77 L449.21,94.24 L450.02,94.72 L450.82,95.20 L451.62,95.67 L452.43,96.14 L453.23,96.62 L454.03,97.09 L454.84,97.56 L455.64,98.03 L456.45,98.50 L457.25,98.97 L458.05,99.44 L458.86,99.90 L459.66,100.37 L460.47,100.83 L461.27,101.30 L462.07,101.76 L462.88,102.22 L463.68,102.68 L464.49,103.14 L465.29,103.60 L466.09,104.05 L466.90,104.51 L467.70,104.97 L468.51,105.42 L469.31,105.87 L470.11,106.32 L470.92,106.77 L471.72,107.22 L472.53,107.67 L473.33,108.12 L474.13,108.56 L474.94,109.01 L475.74,109.45 L476.55,109.89 L477.35,110.33 L478.15,110.77 L478.96,111.21 L479.76,111.64 L480.57,112.08 L481.37,112.51 L482.17,112.95 L482.98,113.38 L483.78,113.81 L484.58,114.23 L485.39,114.66 L486.19,115.09 L487.00,115.51 L487.80,115.93 L488.60,116.35 L489.41,116.77 L490.21,117.19 L491.02,117.61 L491.82,118.02 L492.62,118.44 L493.43,118.85 L494.23,119.26 L495.04,119.67 L495.84,120.08 L496.64,120.49 L497.45,120.90 L498.25,121.30 L499.06,121.71 L499.86,122.11 L500.66,122.51 L501.47,122.91 L502.27,123.31 L503.08,123.71 L503.88,124.10 L504.68,124.50 L505.49,124.89 L506.29,125.29 L507.10,125.68 L507.90,126.07 L508.70,126.46 L509.51,126.84 L510.31,127.23 L511.12,127.61 L511.92,128.00 L512.72,128.38 L513.53,128.76 L514.33,129.14 L515.13,129.52 L515.94,129.90 L516.74,130.27 L517.55,130.65 L518.35,131.02 L519.15,131.39 L519.96,131.76 L520.76,132.13 L521.57,132.50 L522.37,132.87 L523.17,133.23 L523.98,133.60 L524.78,133.96 L525.59,134.33 L526.39,134.69 L527.19,135.05 L528.00,135.41 L528.80,135.76 L529.61,136.12 L530.41,136.48 L531.21,136.83 L532.02,137.18 L532.82,137.54 L533.63,137.89 L534.43,138.24 L535.23,138.58 L536.04,138.93 L536.84,139.28 L537.65,139.62 L538.45,139.97 L539.25,140.31 L540.06,140.65 L540.86,140.99 L541.67,141.33 L542.47,141.67 L543.27,142.00 L544.08,142.34 L544.88,142.67 L545.69,143.01 L546.49,143.34 L547.29,143.67 L548.10,144.00 L548.90,144.33 L549.70,144.66 L550.51,144.98 L551.31,145.31 L552.12,145.63 L552.92,145.96 L553.72,146.28 L554.53,146.60 L555.33,146.92 L556.14,147.24 L556.94,147.56 L557.74,147.87 L558.55,148.19 L559.35,148.51 L560.16,148.82 L560.96,149.13 L561.76,149.44 L562.57,149.75 L563.37,150.06 L564.18,150.37 L564.98,150.68 L565.78,150.98 L566.59,151.29 L567.39,151.59 L568.20,151.90 L569.00,152.20 L569.80,152.50 L570.61,152.80 L571.41,153.10 L572.22,153.40 L573.02,153.69 L573.82,153.99 L574.63,154.28 L575.43,154.58 L576.24,154.87 L577.04,155.16 L577.84,155.45 L578.65,155.74 L579.45,156.03 L580.25,156.32 L581.06,156.60 L581.86,156.89 L582.67,157.17 L583.47,157.46 L584.27,157.74 L585.08,158.02 L585.88,158.30 L586.69,158.58 L587.49,158.86 L588.29,159.14 L589.10,159.42 L589.90,159.69 L590.71,159.97 L591.51,160.24 L592.31,160.52 L593.12,160.79 L593.92,161.06 L594.73,161.33 L595.53,161.60 L596.33,161.87 L597.14,162.13 L597.94,162.40 L598.75,162.67 L599.55,162.93 L600.35,163.19 L601.16,163.46 L601.96,163.72 L602.77,163.98 L603.57,164.24 L604.37,164.50 L605.18,164.76 L605.98,165.02 L606.79,165.27 L607.59,165.53 L608.39,165.78 L609.20,166.04 L610.00,166.29 L610.80,166.54 L611.61,166.79 L612.41,167.04 L613.22,167.29 L614.02,167.54 L614.82,167.79 L615.63,168.03 L616.43,168.28 L617.24,168.53 L618.04,168.77 L618.84,169.01 L619.65,169.26 L620.45,169.50 L621.26,169.74 L622.06,169.98 L622.86,170.22 L623.67,170.46 L624.47,170.69 L625.28,170.93 L626.08,171.17 L626.88,171.40 L627.69,171.64 L628.49,171.87 L629.30,172.10 L630.10,172.33 L630.90,172.56 L631.71,172.79 L632.51,173.02 L633.32,173.25 L634.12,173.48 L634.92,173.71 L635.73,173.93 L636.53,174.16 L637.34,174.38 L638.14,174.61 L638.94,174.83 L639.75,175.05 L640.55,175.27 L641.35,175.49 L642.16,175.71 L642.96,175.93 L643.77,176.15 L644.57,176.37 L645.37,176.59 L646.18,176.80 L646.98,177.02 L647.79,177.23 L648.59,177.45 L649.39,177.66 L650.20,177.87 L651.00,178.09 L651.81,178.30 L652.61,178.51 L653.41,178.72 L654.22,178.93 L655.02,179.13 L655.83,179.34 L656.63,179.55 L657.43,179.75 L658.24,179.96 L659.04,180.16 L659.85,180.37 L660.65,180.57 L661.45,180.77 L662.26,180.98 L663.06,181.18 L663.87,181.38 L664.67,181.58 L665.47,181.78 L666.28,181.98 L667.08,182.17 L667.89,182.37 L668.69,182.57 L669.49,182.76 L670.30,182.96 L671.10,183.15 L671.91,183.35 L672.71,183.54 L673.51,183.73 L674.32,183.93 L675.12,184.12 L675.92,184.31 L676.73,184.50 L677.53,184.69 L678.34,184.88 L679.14,185.06 L679.94,185.25 L680.75,185.44 L681.55,185.63 L682.36,185.81 L683.16,186.00 L683.96,186.18 L684.77,186.37 L685.57,186.55 L686.38,186.73 L687.18,186.91 L687.98,187.10 L688.79,187.28 L689.59,187.46 L690.40,187.64 L691.20,187.82 L692.00,187.99 L692.81,188.17 L693.61,188.35 L694.42,188.53 L695.22,188.70 L696.02,188.88 L696.83,189.06 L697.63,189.23 L698.44,189.40 L699.24,189.58 L700.04,189.75 L700.85,189.92 L701.65,190.10 L702.46,190.27 L703.26,190.44 L704.06,190.61 L704.87,190.78 L705.67,190.95 L706.47,191.12 L707.28,191.29 L708.08,191.45 L708.89,191.62 L709.69,191.79 L710.49,191.95 L711.30,192.12 L712.10,192.29 L712.91,192.45 L713.71,192.62 L714.51,192.78 L715.32,192.94 L716.12,193.11 L716.93,193.27 L717.73,193.43 L718.53,193.59 L719.34,193.75 L720.14,193.91 L720.95,194.07 L721.75,194.23 L722.55,194.39 L723.36,194.55 L724.16,194.71 L724.97,194.87 L725.77,195.03 L726.57,195.18 L727.38,195.34 L728.18,195.49 L728.99,195.65 L729.79,195.81 L730.59,195.96 L731.40,196.11 L732.20,196.27 L733.01,196.42 L733.81,196.58 L734.61,196.73 L735.42,196.88 L736.22,197.03 L737.02,197.18 L737.83,197.34 L738.63,197.49 L739.44,197.64 L740.24,197.79 L741.04,197.94 L741.85,198.09 L742.65,198.23 L743.46,198.38 L744.26,198.53 L745.06,198.68 L745.87,198.83 L746.67,198.97 L747.48,199.12 L748.28,199.27 L749.08,199.41 L749.89,199.56 L750.69,199.70 L751.50,199.85 L752.30,199.99 L753.10,200.14 L753.91,200.28 L754.71,200.42 L755.52,200.57 L756.32,200.71 L757.12,200.85 L757.93,200.99 L758.73,201.14 L759.54,201.28 L760.34,201.42 L761.14,201.56 L761.95,201.70 L762.75,201.84 L763.56,201.98 L764.36,202.12 L765.16,202.26 L765.97,202.40 L766.77,202.54 L767.57,202.68 L768.38,202.81 L769.18,202.95 L769.99,203.09 L770.79,203.23 L771.59,203.36 L772.40,203.50 L773.20,203.64 L774.01,203.77 L774.81,203.91 L775.61,204.05 L776.42,204.18 L777.22,204.32 L778.03,204.45 L778.83,204.59 L779.63,204.72 L780.44,204.86 L781.24,204.99 L782.05,205.13 L782.85,205.26 L783.65,205.39 L784.46,205.53 L785.26,205.66 L786.07,205.79 L786.87,205.92 L787.67,206.06 L788.48,206.19 L789.28,206.32 L790.09,206.45 L790.89,206.58 L791.69,206.72 L792.50,206.85 L793.30,206.98 L794.11,207.11 L794.91,207.24 L795.71,207.37 L796.52,207.50 L797.32,207.63 L798.12,207.76 L798.93,207.89 L799.73,208.02 L800.54,208.15 L801.34,208.28 L802.14,208.41 L802.95,208.54 L803.75,208.67 L804.56,208.80 L805.36,208.92 L806.16,209.05 L806.97,209.18 L807.77,209.31 L808.58,209.44 L809.38,209.57 L810.18,209.69 L810.99,209.82 L811.79,209.95 L812.60,210.08 L813.40,210.20"/>
</g>
<line x1="211.13000000000002" y1="0.45" x2="211.13000000000002" y2="465.45" stroke="#666666" stroke-width="0.5"/>
<g stroke="#6c6c6c" stroke-width="1" fill="none">
<line x1="75.0" y1="0.45" x2="828.6" y2="0.45"/>
<line x1="75.0" y1="465.45" x2="828.6" y2="465.45"/>
<line x1="75.5" y1="0.45" x2="75.5" y2="465.45" stroke-width="0.87"/>
<line x1="828.0" y1="0.45" x2="828.0" y2="465.45" stroke-width="1.3"/>
<line x1="90.65" y1="465.45" x2="90.65" y2="458.25"/>
<line x1="90.65" y1="0.45" x2="90.65" y2="7.65"/>
<line x1="114.74" y1="465.45" x2="114.74" y2="461.25"/>
<line x1="114.74" y1="0.45" x2="114.74" y2="4.65"/>
<line x1="138.82" y1="465.45" x2="138.82" y2="461.25"/>
<line x1="138.82" y1="0.45" x2="138.82" y2="4.65"/>
<line x1="162.91" y1="465.45" x2="162.91" y2="461.25"/>
<line x1="162.91" y1="0.45" x2="162.91" y2="4.65"/>
<line x1="186.99" y1="465.45" x2="186.99" y2="461.25"/>
<line x1="186.99" y1="0.45" x2="186.99" y2="4.65"/>
<line x1="211.08" y1="465.45" x2="211.08" y2="458.25"/>
<line x1="211.08" y1="0.45" x2="211.08" y2="7.65"/>
<line x1="235.17" y1="465.45" x2="235.17" y2="461.25"/>
<line x1="235.17" y1="0.45" x2="235.17" y2="4.65"/>
<line x1="259.25" y1="465.45" x2="259.25" y2="461.25"/>
<line x1="259.25" y1="0.45" x2="259.25" y2="4.65"/>
<line x1="283.34" y1="465.45" x2="283.34" y2="461.25"/>
<line x1="283.34" y1="0.45" x2="283.34" y2="4.65"/>
<line x1="307.42" y1="465.45" x2="307.42" y2="461.25"/>
<line x1="307.42" y1="0.45" x2="307.42" y2="4.65"/>
<line x1="331.51" y1="465.45" x2="331.51" y2="458.25"/>
<line x1="331.51" y1="0.45" x2="331.51" y2="7.65"/>
<line x1="355.60" y1="465.45" x2="355.60" y2="461.25"/>
<line x1="355.60" y1="0.45" x2="355.60" y2="4.65"/>
<line x1="379.68" y1="465.45" x2="379.68" y2="461.25"/>
<line x1="379.68" y1="0.45" x2="379.68" y2="4.65"/>
<line x1="403.77" y1="465.45" x2="403.77" y2="461.25"/>
<line x1="403.77" y1="0.45" x2="403.77" y2="4.65"/>
<line x1="427.85" y1="465.45" x2="427.85" y2="461.25"/>
<line x1="427.85" y1="0.45" x2="427.85" y2="4.65"/>
<line x1="451.94" y1="465.45" x2="451.94" y2="458.25"/>
<line x1="451.94" y1="0.45" x2="451.94" y2="7.65"/>
<line x1="476.03" y1="465.45" x2="476.03" y2="461.25"/>
<line x1="476.03" y1="0.45" x2="476.03" y2="4.65"/>
<line x1="500.11" y1="465.45" x2="500.11" y2="461.25"/>
<line x1="500.11" y1="0.45" x2="500.11" y2="4.65"/>
<line x1="524.20" y1="465.45" x2="524.20" y2="461.25"/>
<line x1="524.20" y1="0.45" x2="524.20" y2="4.65"/>
<line x1="548.28" y1="465.45" x2="548.28" y2="461.25"/>
<line x1="548.28" y1="0.45" x2="548.28" y2="4.65"/>
<line x1="572.37" y1="465.45" x2="572.37" y2="458.25"/>
<line x1="572.37" y1="0.45" x2="572.37" y2="7.65"/>
<line x1="596.46" y1="465.45" x2="596.46" y2="461.25"/>
<line x1="596.46" y1="0.45" x2="596.46" y2="4.65"/>
<line x1="620.54" y1="465.45" x2="620.54" y2="461.25"/>
<line x1="620.54" y1="0.45" x2="620.54" y2="4.65"/>
<line x1="644.63" y1="465.45" x2="644.63" y2="461.25"/>
<line x1="644.63" y1="0.45" x2="644.63" y2="4.65"/>
<line x1="668.71" y1="465.45" x2="668.71" y2="461.25"/>
<line x1="668.71" y1="0.45" x2="668.71" y2="4.65"/>
<line x1="692.80" y1="465.45" x2="692.80" y2="458.25"/>
<line x1="692.80" y1="0.45" x2="692.80" y2="7.65"/>
<line x1="716.89" y1="465.45" x2="716.89" y2="461.25"/>
<line x1="716.89" y1="0.45" x2="716.89" y2="4.65"/>
<line x1="740.97" y1="465.45" x2="740.97" y2="461.25"/>
<line x1="740.97" y1="0.45" x2="740.97" y2="4.65"/>
<line x1="765.06" y1="465.45" x2="765.06" y2="461.25"/>
<line x1="765.06" y1="0.45" x2="765.06" y2="4.65"/>
<line x1="789.14" y1="465.45" x2="789.14" y2="461.25"/>
<line x1="789.14" y1="0.45" x2="789.14" y2="4.65"/>
<line x1="813.23" y1="465.45" x2="813.23" y2="458.25"/>
<line x1="813.23" y1="0.45" x2="813.23" y2="7.65"/>
<line x1="75.5" y1="463.87" x2="79.7" y2="463.87"/>
<line x1="828.0" y1="463.87" x2="823.8" y2="463.87"/>
<line x1="75.5" y1="440.74" x2="79.7" y2="440.74"/>
<line x1="828.0" y1="440.74" x2="823.8" y2="440.74"/>
<line x1="75.5" y1="417.60" x2="82.7" y2="417.60"/>
<line x1="828.0" y1="417.60" x2="820.8" y2="417.60"/>
<line x1="75.5" y1="394.47" x2="79.7" y2="394.47"/>
<line x1="828.0" y1="394.47" x2="823.8" y2="394.47"/>
<line x1="75.5" y1="371.33" x2="79.7" y2="371.33"/>
<line x1="828.0" y1="371.33" x2="823.8" y2="371.33"/>
<line x1="75.5" y1="348.19" x2="79.7" y2="348.19"/>
<line x1="828.0" y1="348.19" x2="823.8" y2="348.19"/>
<line x1="75.5" y1="325.06" x2="82.7" y2="325.06"/>
<line x1="828.0" y1="325.06" x2="820.8" y2="325.06"/>
<line x1="75.5" y1="301.93" x2="79.7" y2="301.93"/>
<line x1="828.0" y1="301.93" x2="823.8" y2="301.93"/>
<line x1="75.5" y1="278.79" x2="79.7" y2="278.79"/>
<line x1="828.0" y1="278.79" x2="823.8" y2="278.79"/>
<line x1="75.5" y1="255.66" x2="79.7" y2="255.66"/>
<line x1="828.0" y1="255.66" x2="823.8" y2="255.66"/>
<line x1="75.5" y1="232.52" x2="82.7" y2="232.52"/>
<line x1="828.0" y1="232.52" x2="820.8" y2="232.52"/>
<line x1="75.5" y1="209.39" x2="79.7" y2="209.39"/>
<line x1="828.0" y1="209.39" x2="823.8" y2="209.39"/>
<line x1="75.5" y1="186.25" x2="79.7" y2="186.25"/>
<line x1="828.0" y1="186.25" x2="823.8" y2="186.25"/>
<line x1="75.5" y1="163.12" x2="79.7" y2="163.12"/>
<line x1="828.0" y1="163.12" x2="823.8" y2="163.12"/>
<line x1="75.5" y1="139.98" x2="82.7" y2="139.98"/>
<line x1="828.0" y1="139.98" x2="820.8" y2="139.98"/>
<line x1="75.5" y1="116.84" x2="79.7" y2="116.84"/>
<line x1="828.0" y1="116.84" x2="823.8" y2="116.84"/>
<line x1="75.5" y1="93.71" x2="79.7" y2="93.71"/>
<line x1="828.0" y1="93.71" x2="823.8" y2="93.71"/>
<line x1="75.5" y1="70.58" x2="79.7" y2="70.58"/>
<line x1="828.0" y1="70.58" x2="823.8" y2="70.58"/>
<line x1="75.5" y1="47.44" x2="82.7" y2="47.44"/>
<line x1="828.0" y1="47.44" x2="820.8" y2="47.44"/>
<line x1="75.5" y1="24.31" x2="79.7" y2="24.31"/>
<line x1="828.0" y1="24.31" x2="823.8" y2="24.31"/>
<line x1="75.5" y1="1.17" x2="79.7" y2="1.17"/>
<line x1="828.0" y1="1.17" x2="823.8" y2="1.17"/>
</g>
<g fill="#666666">
<text x="211.08" y="490.80" text-anchor="middle" font-size="22.2" transform="rotate(0.03 211.08 490.80)">0</text>
<text x="451.94" y="490.80" text-anchor="middle" font-size="22.2" transform="rotate(0.03 451.94 490.80)">2</text>
<text x="572.37" y="490.80" text-anchor="middle" font-size="22.2" transform="rotate(0.03 572.37 490.80)">3</text>
<text x="692.80" y="490.80" text-anchor="middle" font-size="22.2" transform="rotate(0.03 692.80 490.80)">4</text>
<text x="813.23" y="490.80" text-anchor="middle" font-size="22.2" transform="rotate(0.03 813.23 490.80)">5</text>
<path transform="translate(325.59,490.80) scale(0.010840,-0.010840)" d="M763 0H583V1147Q518 1085 412.5 1023T223 930V1104Q374 1175 487 1276T647 1472H763Z"/>
<text x="77.25" y="490.80" text-anchor="start" font-size="22.2" transform="rotate(0.03 77.25 490.80)">-</text>
<path transform="translate(92.10,490.80) scale(0.010840,-0.010840)" d="M763 0H583V1147Q518 1085 412.5 1023T223 930V1104Q374 1175 487 1276T647 1472H763Z"/>
<text x="70.40" y="425.35" text-anchor="end" font-size="22.2" transform="rotate(0.03 70.40 425.35)">0.2</text>
<text x="70.40" y="332.81" text-anchor="end" font-size="22.2" transform="rotate(0.03 70.40 332.81)">0.4</text>
<text x="70.40" y="240.27" text-anchor="end" font-size="22.2" transform="rotate(0.03 70.40 240.27)">0.6</text>
<text x="70.40" y="147.73" text-anchor="end" font-size="22.2" transform="rotate(0.03 70.40 147.73)">0.8</text>
<text x="70.40" y="55.19" text-anchor="end" font-size="22.2" transform="rotate(0.03 70.40 55.19)">.0</text>
<path transform="translate(39.53,55.19) scale(0.010840,-0.010840)" d="M763 0H583V1147Q518 1085 412.5 1023T223 930V1104Q374 1175 487 1276T647 1472H763Z"/>
<text x="400.00" y="526.30" text-anchor="start" font-size="22.3" transform="rotate(0.03 400.00 526.30)">redshift</text>
<text x="486.60" y="526.30" text-anchor="start" font-size="22.3" transform="rotate(0.03 486.60 526.30)">z</text>
<text x="0" y="0" font-size="22.45" transform="translate(22.20,321.20) rotate(-89.97)">sound speed</text>
<text x="0" y="0" font-size="22.3" transform="translate(22.20,179.60) rotate(-89.97)" font-style="italic">c</text>
<text x="0" y="0" font-size="15.8" transform="translate(25.60,168.80) rotate(-89.97)" font-style="italic">s</text>
<text x="0" y="0" font-size="15.8" transform="translate(11.50,160.30) rotate(-89.97)">2</text>
<path d="M482.15,509.45H484.10V529.35H482.15ZM484.00,509.45H486.80V511.10H484.00ZM484.00,527.70H486.80V529.35H484.00Z M501.95,509.45H503.90V529.35H501.95ZM500.05,509.45H502.00V511.10H500.05ZM500.05,527.70H502.00V529.35H500.05Z M5.05,182.50H24.95V184.45H5.05ZM5.05,179.85H6.70V182.60H5.05ZM23.30,179.85H24.95V182.60H23.30Z M5.05,143.35H24.95V145.30H5.05ZM5.05,145.20H6.70V147.75H5.05ZM23.30,145.20H24.95V147.75H23.30Z"/>
</g>
<g stroke-width="3.4" fill="none">
<line x1="649" y1="344.4" x2="684" y2="344.4" stroke="#ff0000"/>
<line x1="649" y1="379.0" x2="684" y2="379.0" stroke="#800080"/>
<line x1="649" y1="413.6" x2="684" y2="413.6" stroke="#0000ff"/>
</g>
<g fill="#000" font-size="17.25" font-weight="bold">
<text x="692.7" y="351.4" transform="rotate(0.03 692.7 351.4)">Hubble</text>
<text x="692.7" y="386.0" transform="rotate(0.03 692.7 386)">Hubble<tspan dx="0.9">+</tspan><tspan dx="-2.6">BAO</tspan></text>
<text x="692.7" y="420.6" transform="rotate(0.03 692.7 420.6)">Joint dataset</text>
</g>
</svg>
</body></html>
